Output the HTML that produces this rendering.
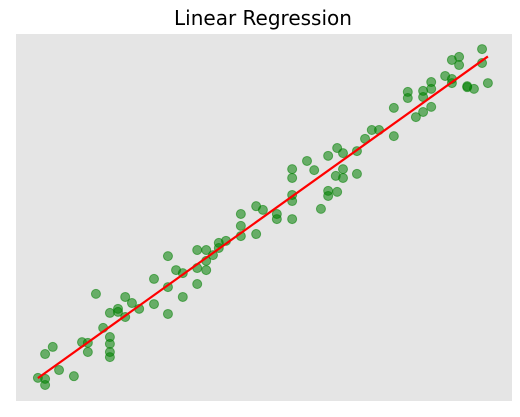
<!DOCTYPE html>
<html><head><meta charset="utf-8"><style>
html,body{margin:0;padding:0;background:#fff;width:520px;height:417px;overflow:hidden}
</style></head><body>
<svg id="chart" width="520" height="417" xmlns="http://www.w3.org/2000/svg">
<text x="263" y="25" text-anchor="middle" font-family="DejaVu Sans, sans-serif" font-size="20" fill="#000">Linear Regression</text>
<rect x="16" y="34" width="496" height="367" fill="#e5e5e5"/>
<g id="points"></g>
<g id="fit"></g>
</svg>
<script>
const xValues = [0.2,1.8,1.8,1.8,3.5,4.9,8.2,10,11.3,11.3,13.1,14.7,16.2,18,18,16.2,16.2,16.2,16.2,19.6,19.6,21.1,22.7,26,26,29.1,29.1,29.1,30.9,32.4,32.4,35.6,35.6,35.6,37.6,37.6,37.6,39.1,40.4,40.4,42,45.3,45.3,45.3,48.7,48.7,50.2,53.3,53.3,56.7,56.7,56.7,56.7,56.7,60,61.6,63.1,64.7,64.7,66.7,64.7,66.7,68,68,68,66.4,71.1,71.1,72.9,74.4,76,79.3,79.3,82.4,82.4,84.2,85.8,85.8,85.8,87.6,87.6,87.6,90.7,92.2,92.2,92.2,93.8,93.8,95.6,95.6,97.1,98.9,98.9,100.2];
const yValues = [2.1,1.8,0,9.1,11.2,4.4,2.6,12.6,12.4,9.7,26.8,16.8,21.2,22.4,21.5,14.1,12.1,9.7,8.2,25.9,20,24.1,22.4,31.2,23.8,37.9,28.8,20.9,33.8,32.9,25.9,39.7,34.4,29.7,39.7,36.5,33.8,38.2,41.8,40.3,42.4,50.3,46.8,43.8,52.6,44.4,51.5,50.3,48.8,48.8,54.1,55.9,60.9,63.5,65.9,63.2,51.8,57.1,55.6,56.8,67.4,69.7,68.2,63.5,60.9,61.5,68.8,62.1,72.4,75,75,81.5,73.2,86.2,84.4,78.8,80.3,86.5,84.7,89.1,87.1,81.8,90.9,90,88.8,95.6,96.5,94.1,87.9,87.6,87.1,98.8,94.7,88.8];

const NS = 'http://www.w3.org/2000/svg';
function sx(x){ return 37 + x * 4.5; }
function sy(y){ return 385 - y * 3.4; }

const pg = document.getElementById('points');
for (let i = 0; i < xValues.length; i++) {
  const c = document.createElementNS(NS, 'circle');
  
  
  c.setAttribute('cx', sx(xValues[i]));
  c.setAttribute('cy', sy(yValues[i]));
  c.setAttribute('r', 4.5);
  c.setAttribute('fill', 'rgba(0,128,0,0.55)');
  c.setAttribute('stroke', 'rgba(0,128,0,0.55)');
  c.setAttribute('stroke-width', '1');
  pg.appendChild(c);
}

const n = xValues.length;
let mx = 0, my = 0;
for (let i = 0; i < n; i++) { mx += xValues[i]; my += yValues[i]; }
mx /= n; my /= n;
let sxy = 0, sxx = 0;
for (let i = 0; i < n; i++) { sxy += (xValues[i]-mx)*(yValues[i]-my); sxx += (xValues[i]-mx)**2; }
const slope = sxy / sxx, intercept = my - slope * mx;
const xmin = Math.min(...xValues), xmax = Math.max(...xValues);
const line = document.createElementNS(NS, 'line');


line.setAttribute('x1', sx(xmin));
line.setAttribute('y1', sy(intercept + slope * xmin));
line.setAttribute('x2', sx(xmax));
line.setAttribute('y2', sy(intercept + slope * xmax));
line.setAttribute('stroke', '#ff0000');
line.setAttribute('stroke-width', '2.2');
document.getElementById('fit').appendChild(line);
</script>
</body></html>
